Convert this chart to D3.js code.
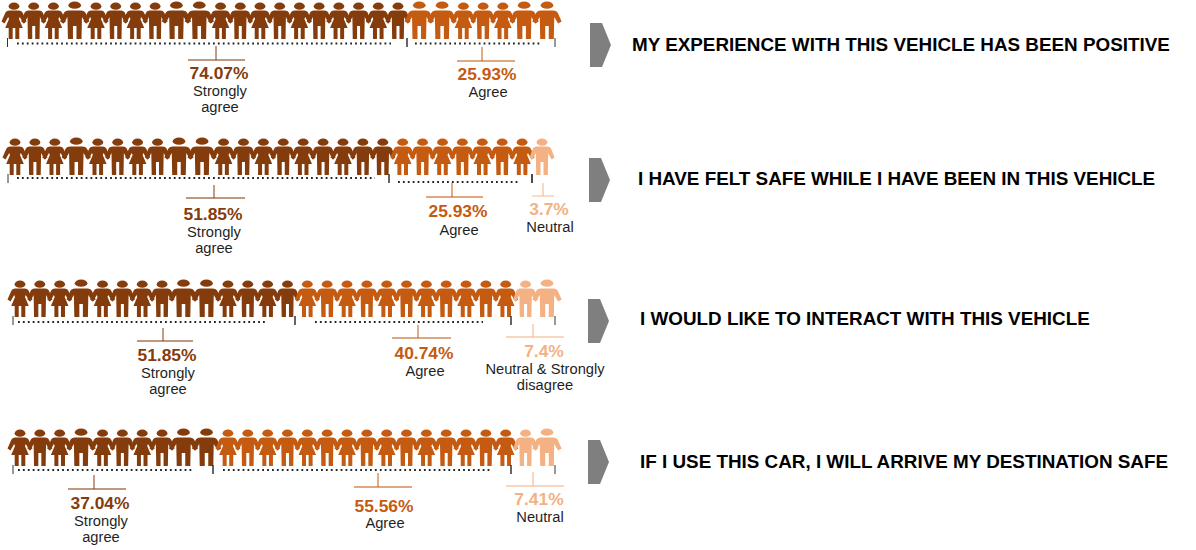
<!DOCTYPE html>
<head>
<title>Vehicle survey pictogram</title>
<script src="https://cdn.jsdelivr.net/npm/d3@7/dist/d3.min.js"></script>
<style>
  html, body { margin: 0; padding: 0; background: #fff; }
  text { font-family: "Liberation Sans", Arial, sans-serif; }
  .pct { font-size: 17.4px; font-weight: bold; text-anchor: middle; }
  .lab { font-size: 14.7px; fill: #1f1f1f; text-anchor: middle; }
  .title { font-size: 18.85px; font-weight: bold; fill: #000; }
</style>
</head>
<body>
<script>
// survey statements
var statements = [
  "MY EXPERIENCE WITH THIS VEHICLE HAS BEEN POSITIVE",
  "I HAVE FELT SAFE WHILE I HAVE BEEN IN THIS VEHICLE",
  "I WOULD LIKE TO INTERACT WITH THIS VEHICLE",
  "IF I USE THIS CAR, I WILL ARRIVE MY DESTINATION SAFE"
];

// percentages and answer labels for each statement
var percents = [
  [74.07, 25.93],
  [51.85, 25.93, 3.7],
  [51.85, 40.74, 7.4],
  [37.04, 55.56, 7.41]
];
var answers = [
  [["Strongly", "agree"], ["Agree"]],
  [["Strongly", "agree"], ["Agree"], ["Neutral"]],
  [["Strongly", "agree"], ["Agree"], ["Neutral & Strongly", "disagree"]],
  [["Strongly", "agree"], ["Agree"], ["Neutral"]]
];

// how many figures get each colour, and which figure is drawn (W woman, M man, B broad man)
var figureCounts = [[20, 7], [19, 7, 1], [14, 11, 2], [10, 15, 2]];
var figureTypes = [
  "WMWBWMWMBBWMWMWMWMWMBBWMWBB",
  "WMWBWMWMBBWMWMWMWMMWMWMWMWM",
  "WMWBWMWMBBWMWMWMWMWMWMWMWMB",
  "WMWBWMWMBBWMWMWMWMWMWMWMWMB"
];

var colors = ["#843c0c", "#c55a11", "#f4b183"];

// row layout: first and last figure centre, feet line, title and arrow position
var rows = [
  {first: 14, last: 547, feet: 39, titleX: 632, titleY: 50.5, arrowX: 590, arrowY: 23},
  {first: 15, last: 542, feet: 175, titleX: 638, titleY: 184.5, arrowX: 589, arrowY: 158},
  {first: 20, last: 547, feet: 317, titleX: 640, titleY: 324.5, arrowX: 588, arrowY: 299},
  {first: 20, last: 547, feet: 466, titleX: 640, titleY: 467.5, arrowX: 588, arrowY: 440}
];

// bracket pieces under the figures, one entry per answer
var brackets = [
  [{x0: 7.5, x1: 407, y: 43.5, d0: 17, d1: 391, stem: 216, stemY: 46, lineY: 60, l0: 188, l1: 245, tx: 219, pctY: 79, labY: 96},
   {x0: 407, x1: 555, y: 43.5, d0: 415, d1: 542, stem: 482, stemY: 47, lineY: 61, l0: 457, l1: 515, tx: 487, pctY: 80, labY: 97}],
  [{x0: 8, x1: 389, y: 178, d0: 17, d1: 375, stem: 214, stemY: 185, lineY: 198, l0: 186, l1: 245, tx: 213, pctY: 220, labY: 237},
   {x0: 389, x1: 532, y: 182, d0: 398, d1: 518, stem: 452, stemY: 183, lineY: 197, l0: 426, l1: 483, tx: 458, pctY: 217, labY: 235},
   {x0: 532, x1: 532, y: 182, d0: 0, d1: 0, stem: 543, stemY: 183, lineY: 196, l0: 532, l1: 554, tx: 549, pctY: 215, labY: 232}],
  [{x0: 13, x1: 295, y: 322, d0: 18, d1: 267, stem: 163, stemY: 328, lineY: 341, l0: 137, l1: 193, tx: 167, pctY: 361, labY: 378},
   {x0: 295, x1: 511, y: 322, d0: 315, d1: 483, stem: 418, stemY: 325, lineY: 338, l0: 392, l1: 451, tx: 424, pctY: 359, labY: 376},
   {x0: 511, x1: 555, y: 322, d0: 0, d1: 0, stem: 533, stemY: 324, lineY: 337, l0: 506, l1: 564, tx: 544, pctY: 357, labY: 374}],
  [{x0: 13, x1: 213, y: 470, d0: 18, d1: 192, stem: 94, stemY: 475, lineY: 489, l0: 68, l1: 126, tx: 100, pctY: 509, labY: 526},
   {x0: 213, x1: 511, y: 470, d0: 223, d1: 490, stem: 378, stemY: 473, lineY: 487, l0: 354, l1: 412, tx: 384, pctY: 512, labY: 528},
   {x0: 511, x1: 555, y: 470, d0: 0, d1: 0, stem: 533, stemY: 472, lineY: 486, l0: 506, l1: 564, tx: 539, pctY: 505, labY: 522}]
];

// figure outlines, drawn around x = 0 with the feet on y = 0
var manBody = "M-5,-28.5 L5,-28.5 Q8.5,-28.5 9.5,-25.5 L12.5,-17.5 L9.5,-15.5 L6.2,-22 L5.8,0 L1.5,0 L1.5,-13 L-1.5,-13 L-1.5,0 L-5.8,0 L-6.2,-22 L-9.5,-15.5 L-12.5,-17.5 L-9.5,-25.5 Q-8.5,-28.5 -5,-28.5 Z";
var womanBody = "M-4.5,-28.5 L4.5,-28.5 Q8,-28.5 9,-25.5 L12.5,-17.5 L9.5,-15.5 L5.8,-22 L5,-20 L8.8,-11 L5.3,-11 L5.3,0 L1.3,0 L1.3,-11 L-1.3,-11 L-1.3,0 L-5.3,0 L-5.3,-11 L-8.8,-11 L-5,-20 L-5.8,-22 L-9.5,-15.5 L-12.5,-17.5 L-9,-25.5 Q-8,-28.5 -4.5,-28.5 Z";

var svg = d3.select("body").append("svg")
    .attr("width", 1196)
    .attr("height", 550)
    .style("display", "block");

// place the figures along the row, a broad man takes more room than the others
function figureWidth(t) { return t == "B" ? 1.16 : 1; }

rows.forEach(function(row, r) {
  var types = figureTypes[r].split("");
  var cum = [0];
  for (var i = 1; i < types.length; i++) {
    cum.push(cum[i - 1] + (figureWidth(types[i - 1]) + figureWidth(types[i])) / 2);
  }
  var x = d3.scaleLinear().domain([0, cum[cum.length - 1]]).range([row.first, row.last]);

  // colour index of each figure
  var groups = [];
  figureCounts[r].forEach(function(n, g) {
    d3.range(n).forEach(function() { groups.push(g); });
  });

  var fig = svg.append("g").attr("class", "figures").selectAll("g")
      .data(types)
      .enter().append("g")
      .attr("transform", function(d, i) {
        var sx = d == "B" ? 1.17 : 1;
        return "translate(" + x(cum[i]) + "," + row.feet + ") scale(" + sx + ",1)";
      })
      .attr("fill", function(d, i) { return colors[groups[i]]; });

  fig.append("path")
      .attr("d", function(d) { return d == "W" ? womanBody : manBody; });
  fig.append("ellipse")
      .attr("cx", 0)
      .attr("cy", function(d) { return d == "B" ? -33.8 : -32.8; })
      .attr("rx", 5.4)
      .attr("ry", 3.6);

  // brackets and labels
  brackets[r].forEach(function(b, k) {
    var g = svg.append("g");
    var tickTop = row.feet - 1;
    [b.x0, b.x1].forEach(function(tx) {
      g.append("line")
          .attr("x1", tx).attr("x2", tx)
          .attr("y1", tickTop).attr("y2", tickTop + 9)
          .attr("stroke", "#333")
          .attr("stroke-width", 1);
    });
    if (b.d1 > b.d0) {
      g.append("line")
          .attr("x1", b.d0).attr("x2", b.d1)
          .attr("y1", b.y).attr("y2", b.y)
          .attr("stroke", "#222")
          .attr("stroke-width", 1.8)
          .attr("stroke-dasharray", "1.8 3.1");
    }
    g.append("line")
        .attr("x1", b.stem).attr("x2", b.stem)
        .attr("y1", b.stemY).attr("y2", b.lineY)
        .attr("stroke", colors[k]);
    g.append("line")
        .attr("x1", b.l0).attr("x2", b.l1)
        .attr("y1", b.lineY).attr("y2", b.lineY)
        .attr("stroke", colors[k])
        .attr("stroke-opacity", 0.7)
        .attr("stroke-width", 1.3);
    g.append("text")
        .attr("class", "pct")
        .attr("x", b.tx)
        .attr("y", b.pctY)
        .attr("fill", colors[k])
        .text(percents[r][k] + "%");
    answers[r][k].forEach(function(line, n) {
      g.append("text")
          .attr("class", "lab")
          .attr("x", b.tx + 1)
          .attr("y", b.labY + n * 16)
          .text(line);
    });
  });

  // arrow and statement
  svg.append("path")
      .attr("transform", "translate(" + row.arrowX + "," + row.arrowY + ")")
      .attr("d", "M0,0 L12,0 L21,22 L12,44 L0,44 Z")
      .attr("fill", "#7f7f7f");
  svg.append("text")
      .attr("class", "title")
      .attr("x", row.titleX)
      .attr("y", row.titleY)
      .text(statements[r]);
});
</script>
</body>
